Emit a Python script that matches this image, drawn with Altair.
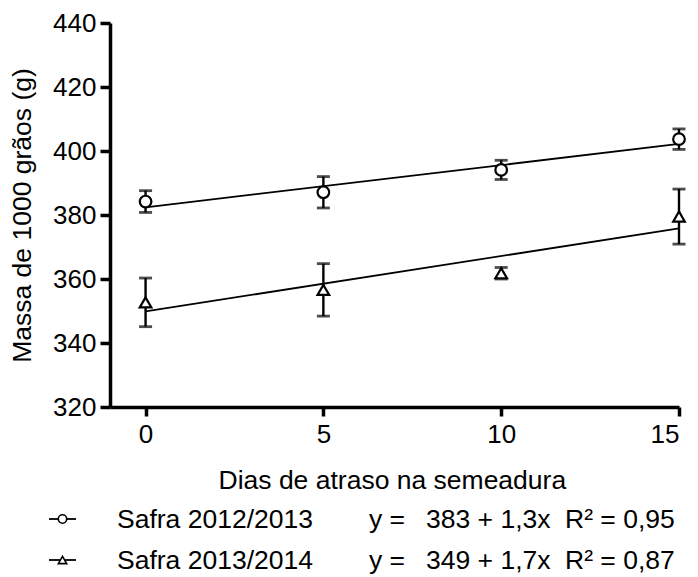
import altair as alt
import pandas as pd

# ---- data ----
dias = [0, 5, 10, 15]
safra1_media = [384.2, 387.1, 394.1, 403.7]
safra1_erro = [3.4, 4.9, 3.0, 3.2]
safra2_media = [352.7, 356.6, 361.8, 379.5]
safra2_erro = [7.6, 8.2, 1.8, 8.6]
ajuste_x = [0, 15]
ajuste1 = [382.4, 402.2]
ajuste2 = [349.9, 375.8]
series = ["Safra 2012/2013", "Safra 2013/2014"]
shapes = ["circle", "triangle-up"]
eq_y = ["y =", "y ="]
eq_fit = ["383 + 1,3x", "349 + 1,7x"]
eq_r2 = ["R² = 0,95", "R² = 0,87"]
x_ticks = [0, 5, 10, 15]
y_ticks = [320, 340, 360, 380, 400, 420, 440]

FONT = "Liberation Sans"

rows = []
for i, s in enumerate(series):
    med = safra1_media if i == 0 else safra2_media
    err = safra1_erro if i == 0 else safra2_erro
    for d, m, e in zip(dias, med, err):
        rows.append({"dias": d, "media": m, "lo": m - e, "hi": m + e, "serie": s})
pts = pd.DataFrame(rows)

fit_rows = []
for i, s in enumerate(series):
    fy = ajuste1 if i == 0 else ajuste2
    for xx, yy in zip(ajuste_x, fy):
        fit_rows.append({"dias": xx, "valor": yy, "serie": s})
fit = pd.DataFrame(fit_rows)

xscale = alt.Scale(domain=[-1, 15], nice=False, zero=False)
yscale = alt.Scale(domain=[320, 440], nice=False, zero=False)

xaxis = alt.Axis(values=x_ticks, grid=False, domainWidth=3.5, domainColor="black",
                 tickWidth=3.5, tickColor="black", tickSize=9, labelFontSize=26,
                 labelFont=FONT, labelColor="black", labelPadding=5,
                 title="Dias de atraso na semeadura", titleFont=FONT, titleFontSize=26.5,
                 titleFontWeight="normal", titleColor="black", titleX=108, titleY=81,
                 titleAlign="left", titleBaseline="alphabetic", titleAnchor="start")
yaxis = alt.Axis(values=y_ticks, grid=False, domainWidth=3.5, domainColor="black",
                 tickWidth=3.5, tickColor="black", tickSize=10, labelFontSize=26,
                 labelFont=FONT, labelColor="black", labelPadding=4,
                 title="Massa de 1000 grãos (g)", titleFont=FONT, titleFontSize=26.5,
                 titleFontWeight="normal", titleColor="black", titleX=-88, titleY=192,
                 titleAngle=-90, titleAlign="center", titleBaseline="middle", titleAnchor="middle")

X = alt.X("dias:Q", scale=xscale, axis=xaxis)
shape_enc = alt.Shape("serie:N", scale=alt.Scale(domain=series, range=shapes), legend=None)

lines = alt.Chart(fit).mark_line(color="black", strokeWidth=1.8).encode(
    x=X, y=alt.Y("valor:Q", scale=yscale, axis=yaxis), detail="serie:N")

bars = alt.Chart(pts).mark_rule(color="black", strokeWidth=2.4).encode(
    x=alt.X("dias:Q", scale=xscale), y=alt.Y("lo:Q", scale=yscale), y2="hi:Q")
cap_lo = alt.Chart(pts).mark_tick(color="black", thickness=2.8, size=13, orient="horizontal").encode(
    x=alt.X("dias:Q", scale=xscale), y=alt.Y("lo:Q", scale=yscale))
cap_hi = alt.Chart(pts).mark_tick(color="black", thickness=2.8, size=13, orient="horizontal").encode(
    x=alt.X("dias:Q", scale=xscale), y=alt.Y("hi:Q", scale=yscale))

points = alt.Chart(pts).mark_point(filled=False, fill="white", stroke="black", strokeWidth=2.2,
                                   opacity=1, size=135).encode(
    x=alt.X("dias:Q", scale=xscale), y=alt.Y("media:Q", scale=yscale), shape=shape_enc)

# ---- manual legend below the plot ----
leg_layers = []
sym_y = [496, 537]
txt_y = [505, 546]
for i, s in enumerate(series):
    ldf = pd.DataFrame({"nome": [s], "eq1": [eq_y[i]], "eq2": [eq_fit[i]], "eq3": [eq_r2[i]]})
    base = alt.Chart(ldf)
    leg_layers.append(base.mark_rule(color="black", strokeWidth=1.8).encode(
        x=alt.value(-61), x2=alt.value(-34), y=alt.value(sym_y[i])))
    leg_layers.append(base.mark_point(shape=shapes[i], filled=False, fill="white", stroke="black",
                                      strokeWidth=1.6, opacity=1, size=70).encode(
        x=alt.value(-47.5), y=alt.value(sym_y[i])))
    for field, xx in [("nome", 7), ("eq1", 259), ("eq2", 316), ("eq3", 455)]:
        leg_layers.append(base.mark_text(font=FONT, fontSize=26.5, color="black", align="left",
                                         baseline="alphabetic").encode(
            x=alt.value(xx), y=alt.value(txt_y[i]), text=f"{field}:N"))

chart = alt.layer(lines, bars, cap_lo, cap_hi, points, *leg_layers).properties(
    width=569, height=384,
    padding={"left": 102, "top": 15, "right": 11, "bottom": 168},
    autosize=alt.AutoSizeParams(type="none"),
    background="white",
).configure_view(stroke=None)

chart.save("out.html", embed_options={"renderer": "svg", "actions": False})
